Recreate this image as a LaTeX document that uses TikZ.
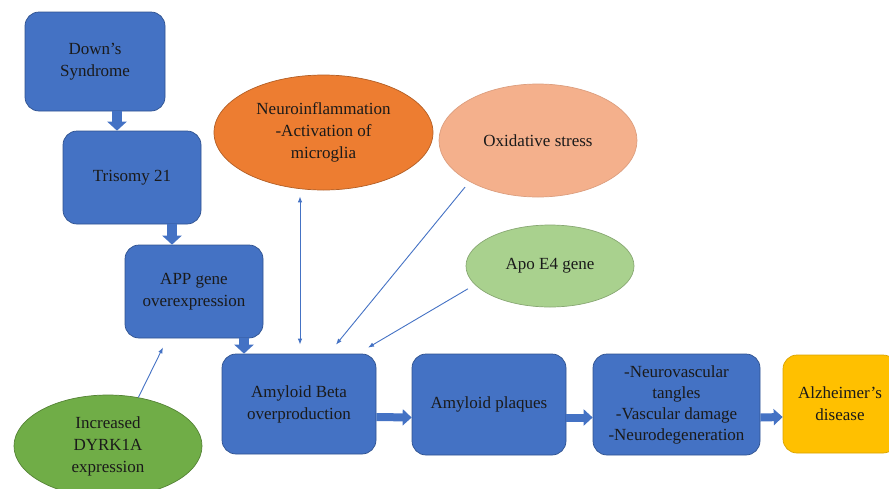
\documentclass[tikz,border=0pt]{standalone}
\usepackage{fontspec}
\setmainfont{Liberation Serif}
\usetikzlibrary{shapes.geometric,arrows.meta,calc}
\definecolor{DSBlue}{HTML}{4472C4}
\definecolor{DSBlueDark}{HTML}{2F528F}
\definecolor{DSOrange}{HTML}{ED7D31}
\definecolor{DSSalmon}{HTML}{F4B08C}
\definecolor{DSLightGreen}{HTML}{A9D18E}
\definecolor{DSGreen}{HTML}{70AD47}
\definecolor{DSGold}{HTML}{FFC000}
\definecolor{DSText}{HTML}{1A1A1A}

\begin{document}
\begin{tikzpicture}[x=1pt,y=-1pt,text=DSText,
  font=\fontsize{17}{22}\selectfont,
  box/.style={rectangle,rounded corners=14pt,fill=DSBlue,draw=DSBlueDark,
    line width=0.7pt,align=center,inner sep=0pt},
  blob/.style={ellipse,line width=0.7pt,align=center,inner sep=0pt},
  fat/.style={-{Triangle[length=9pt,width=19pt]},line width=10pt,draw=DSBlue},
  fatH/.style={-{Triangle[length=9pt,width=16pt]},line width=8pt,draw=DSBlue},
  thinarr/.style={-{Latex[length=6pt,width=4.5pt]},draw=DSBlue,line width=0.9pt}]
  \useasboundingbox (0,0) rectangle (889,488);

  % left column
  \node[box,minimum width=140pt,minimum height=99pt] (ds) at (95,61.5) {Down’s\\Syndrome};
  \node[box,minimum width=138pt,minimum height=93pt] (tri) at (132,177.5) {Trisomy 21};
  \node[box,minimum width=138pt,minimum height=93pt] (app) at (194,291.5) {APP gene\\overexpression};

  % bottom row
  \node[box,minimum width=154pt,minimum height=100pt] (amyB) at (299,404) {Amyloid Beta\\overproduction};
  \node[box,minimum width=154pt,minimum height=101pt] (plq) at (489,404.5) {Amyloid plaques};
  \node[box,minimum width=167pt,minimum height=101pt,font=\fontsize{17}{21}\selectfont] (neurov) at (676.5,404.5)
    {-Neurovascular\\tangles\\-Vascular damage\\-Neurodegeneration};
  \node[box,fill=DSGold,draw=DSGold!85!black,minimum width=114pt,minimum height=98pt] (alz) at (840,404)
    {Alzheimer’s\\disease};

  % risk factors
  \node[blob,fill=DSOrange,draw=DSOrange!75!black,minimum width=219pt,minimum height=115pt] (neuro) at (323.5,132.5)
    {Neuroinflammation\\-Activation of\\microglia};
  \node[blob,fill=DSSalmon,draw=DSSalmon!90!black,minimum width=198pt,minimum height=113pt] (ox) at (538,140.5)
    {Oxidative stress};
  \node[blob,fill=DSLightGreen,draw=DSLightGreen!80!black,minimum width=168pt,minimum height=82pt] (apo) at (550,266)
    {Apo E4 gene};
  \node[blob,fill=DSGreen,draw=DSGreen!75!black,minimum width=188pt,minimum height=102pt] (dyrk) at (108,446)
    {Increased\\DYRK1A\\expression};

  % block arrows
  \draw[fat] ([xshift=22pt]ds.south) -- ([xshift=-15pt]tri.north);
  \draw[fat] ([xshift=40pt]tri.south) -- ([xshift=-22pt]app.north);
  \draw[fat] ([xshift=50pt]app.south) -- ([xshift=-55pt]amyB.north);
  \draw[fatH] ([yshift=-13pt]amyB.east) -- ([yshift=-13pt]plq.west);
  \draw[fatH] ([yshift=-13pt]plq.east) -- ([yshift=-13pt]neurov.west);
  \draw[fatH] ([yshift=-13pt]neurov.east) -- ([yshift=-13pt]alz.west);

  % thin arrows
  \draw[thinarr,{Latex[length=6pt,width=4.5pt]}-{Latex[length=6pt,width=4.5pt]}]
    ([xshift=-23.5pt,yshift=-6pt]neuro.south) -- ([xshift=1pt,yshift=9pt]amyB.north);
  \draw[thinarr,shorten <=7pt] (ox.211) -- ([xshift=37pt,yshift=9pt]amyB.north);
  \draw[thinarr,shorten <=8pt] (apo.194) -- ([xshift=69pt,yshift=6pt]amyB.north);
  \draw[thinarr] (dyrk.58) -- ([xshift=-31pt,yshift=-9pt]app.south);
\end{tikzpicture}
\end{document}
